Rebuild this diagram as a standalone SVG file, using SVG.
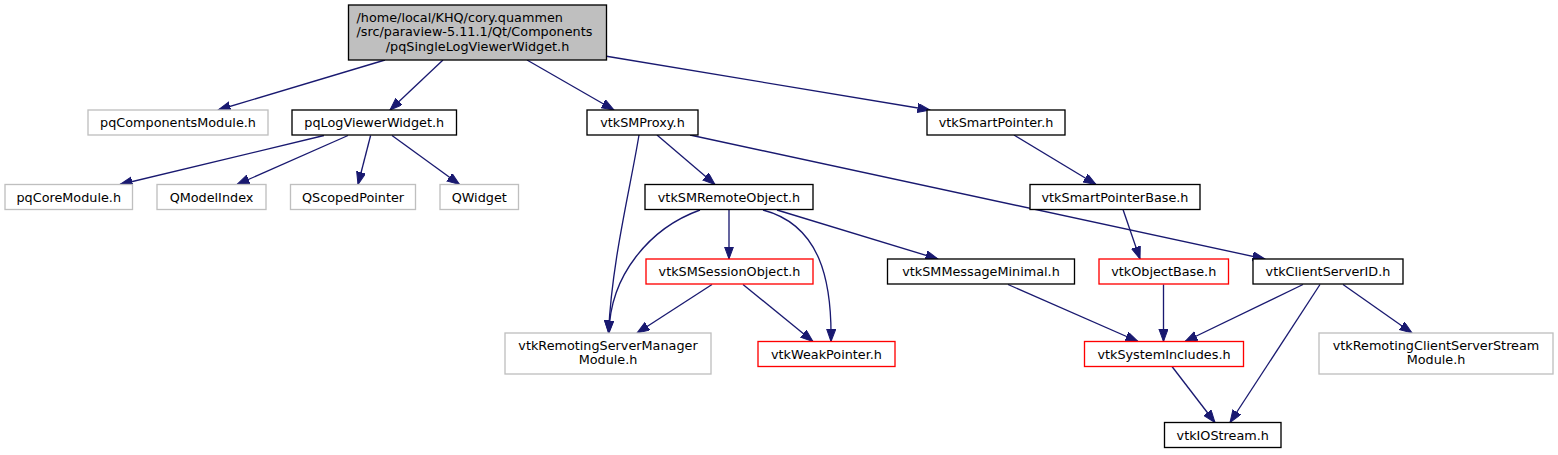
<svg xmlns="http://www.w3.org/2000/svg" width="1558" height="455" viewBox="0 0 1558 455">
<style>
rect{fill:#fff;stroke-width:1.33}
.k{stroke:#000}
.g{stroke:#bfbfbf}
.r{stroke:#ff0000}
.root{fill:#bfbfbf;stroke:#000}
text{font-family:"DejaVu Sans",sans-serif;font-size:12.8px;fill:#000;text-anchor:middle}
.e path{fill:none;stroke:#191970;stroke-width:1.33;marker-end:url(#ah)}
</style>
<defs>
<marker id="ah" markerWidth="14" markerHeight="10" refX="12.5" refY="4.6" orient="auto" markerUnits="userSpaceOnUse">
<path d="M0,0 L12.5,4.6 L0,9.2 z" fill="#191970" stroke="#191970" stroke-width="1"/>
</marker>
</defs>
<rect width="1558" height="455" style="fill:#fff;stroke:none"/>
<g class="e" id="connectors">
<path d="M385,60 L218,110"/>
<path d="M443,60 L390,110"/>
<path d="M527,60 L614,110"/>
<path d="M605,56 L930,110"/>
<path d="M324,135.5 L120,184.5"/>
<path d="M348,135.5 L237,184.5"/>
<path d="M370.6,135.5 L358,184.5"/>
<path d="M392,135.5 L459.5,184.5"/>
<path d="M657,135 L715,184.5"/>
<path d="M639,135 C630,190 612,260 608.5,333"/>
<path d="M690,135 L1265,259"/>
<path d="M729,209.5 L729,259"/>
<path d="M700,210 C650,228 610,275 609,333"/>
<path d="M763,210 C820,225 832,280 831,341.5"/>
<path d="M777,210 L938,259"/>
<path d="M712,284.5 L637,333"/>
<path d="M743,284.5 L813,341.5"/>
<path d="M1014,135 L1096,184.5"/>
<path d="M1123,209.5 L1140,259"/>
<path d="M1008,284.5 L1138,341.5"/>
<path d="M1163.5,284.5 L1163.5,341.5"/>
<path d="M1303,284.5 L1185,341.5"/>
<path d="M1320,284.5 L1230,422.5"/>
<path d="M1343,284.5 L1412,333"/>
<path d="M1172,366.5 L1215,422.5"/>
</g>
<g id="root"><rect class="root" x="348.5" y="5" width="258" height="55"/>
<text x="356.5" y="21.5" style="text-anchor:start">/home/local/KHQ/cory.quammen</text>
<text x="356.5" y="36" style="text-anchor:start">/src/paraview-5.11.1/Qt/Components</text>
<text x="477.5" y="50.5">/pqSingleLogViewerWidget.h</text></g>
<g id="pqComponentsModule"><rect class="g" x="88" y="110" width="180" height="25"/><text x="178" y="127">pqComponentsModule.h</text></g>
<g id="pqLogViewerWidget"><rect class="k" x="292" y="110" width="164.5" height="25"/><text x="374.25" y="127">pqLogViewerWidget.h</text></g>
<g id="vtkSMProxy"><rect class="k" x="587" y="110" width="111" height="25"/><text x="642.5" y="127">vtkSMProxy.h</text></g>
<g id="vtkSmartPointer"><rect class="k" x="927" y="110" width="138" height="25"/><text x="996" y="127">vtkSmartPointer.h</text></g>
<g id="pqCoreModule"><rect class="g" x="5" y="184.5" width="127.5" height="25"/><text x="68.75" y="201.5">pqCoreModule.h</text></g>
<g id="QModelIndex"><rect class="g" x="157" y="184.5" width="109" height="25"/><text x="211.5" y="201.5">QModelIndex</text></g>
<g id="QScopedPointer"><rect class="g" x="290.5" y="184.5" width="125" height="25"/><text x="353" y="201.5">QScopedPointer</text></g>
<g id="QWidget"><rect class="g" x="440" y="184.5" width="78.5" height="25"/><text x="479.25" y="201.5">QWidget</text></g>
<g id="vtkSMRemoteObject"><rect class="k" x="645" y="184.5" width="168" height="25"/><text x="729" y="201.5">vtkSMRemoteObject.h</text></g>
<g id="vtkSmartPointerBase"><rect class="k" x="1030" y="184.5" width="170" height="25"/><text x="1115" y="201.5">vtkSmartPointerBase.h</text></g>
<g id="vtkSMSessionObject"><rect class="r" x="646" y="259" width="167" height="25"/><text x="729.5" y="276">vtkSMSessionObject.h</text></g>
<g id="vtkSMMessageMinimal"><rect class="k" x="887.5" y="259" width="187" height="25"/><text x="981" y="276">vtkSMMessageMinimal.h</text></g>
<g id="vtkObjectBase"><rect class="r" x="1099" y="259" width="129.5" height="25"/><text x="1163.75" y="276">vtkObjectBase.h</text></g>
<g id="vtkClientServerID"><rect class="k" x="1253" y="259" width="150" height="25"/><text x="1328" y="276">vtkClientServerID.h</text></g>
<g id="vtkRemotingServerManagerModule"><rect class="g" x="505" y="333" width="206" height="41"/><text x="608" y="349.5">vtkRemotingServerManager</text><text x="608" y="364">Module.h</text></g>
<g id="vtkWeakPointer"><rect class="r" x="758" y="341.5" width="137" height="25"/><text x="826.5" y="358.5">vtkWeakPointer.h</text></g>
<g id="vtkSystemIncludes"><rect class="r" x="1084.5" y="341.5" width="159" height="25"/><text x="1164" y="358.5">vtkSystemIncludes.h</text></g>
<g id="vtkRemotingClientServerStreamModule"><rect class="g" x="1319" y="333" width="234" height="41"/><text x="1436" y="349.5">vtkRemotingClientServerStream</text><text x="1436" y="364">Module.h</text></g>
<g id="vtkIOStream"><rect class="k" x="1164.5" y="422.5" width="116.5" height="25"/><text x="1222.75" y="439.5">vtkIOStream.h</text></g>
</svg>
